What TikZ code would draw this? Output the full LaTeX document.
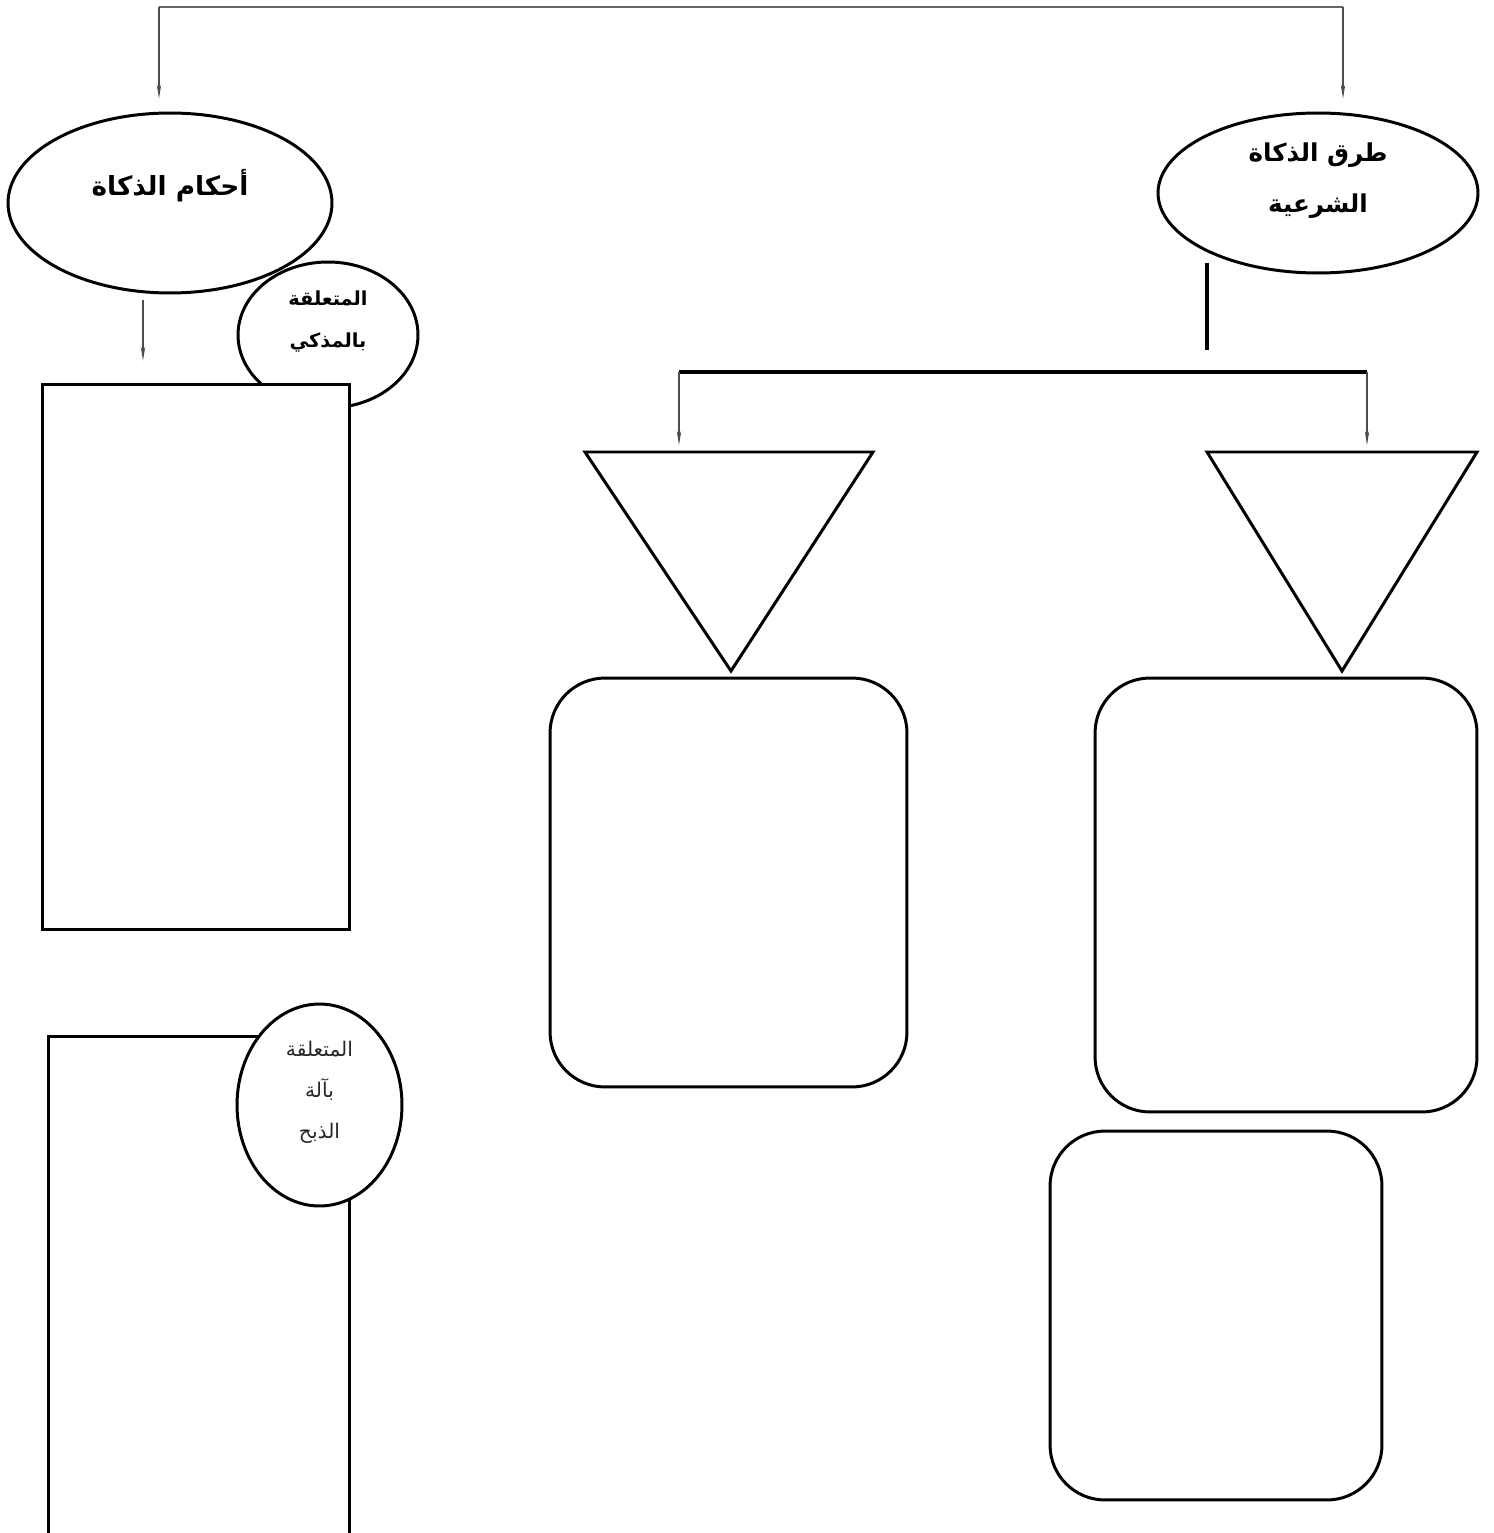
\documentclass[tikz,border=0pt]{standalone}
\usepackage{fontspec}
\usepackage{tikz}
\usetikzlibrary{shapes.geometric, arrows.meta, calc}
\TeXXeTstate=1
\newfontfamily\arabicfont[Script=Arabic]{DejaVu Sans}
\newcommand{\lAhkam}{أحكام الذكاة}
\newcommand{\lTuruqA}{طرق الذكاة}
\newcommand{\lTuruqB}{الشرعية}
\newcommand{\lMutaAlliqa}{المتعلقة}
\newcommand{\lBilMudhakka}{بالمذكي}
\newcommand{\lBiAla}{بآلة}
\newcommand{\lAdhDhabh}{الذبح}
\newcommand{\rtl}[1]{\beginR #1\endR}

\begin{document}
\begin{tikzpicture} [
        x=0.02cm, y=-0.02cm,
        line width=1.7pt,
        main topic/.style={draw, ellipse, inner sep=0pt, align=center, font=\arabicfont\bfseries\fontsize{15}{20}\selectfont},
        sub topic/.style={draw, ellipse, inner sep=0pt, align=center, font=\arabicfont\fontsize{11.5}{23.2}\selectfont},
        note box/.style={draw, fill=white, inner sep=0pt},
        round box/.style={draw, rounded corners=1.1cm, inner sep=0pt},
        thin link/.style={line width=0.6pt, draw=black!70},
        thick link/.style={line width=2.2pt},
        arr/.style={thin link, -{Stealth[length=0.28cm, width=0.09cm]}}
    ]

    \useasboundingbox (0,0) rectangle (1493,1533);

    % left branch
    \path (170,203) node[main topic, minimum width=6.48cm, minimum height=3.6cm] (ahkam) {\rtl{\lAhkam}\\[3pt]\mbox{}};
    \path (328,335) node[sub topic, font=\arabicfont\bfseries\fontsize{11}{23.8}\selectfont, minimum width=3.6cm, minimum height=2.92cm] (mudhakka) {\rtl{\lMutaAlliqa}\\\rtl{\lBilMudhakka}\\[-6pt]\mbox{}};
    \path (196,657) node[note box, minimum width=6.16cm, minimum height=10.92cm] (box mudhakka) {};
    \path (199,1290) node[note box, minimum width=6.04cm, minimum height=10.14cm] (box ala) {};
    \path (319.5,1105) node[sub topic, fill=white, text=black!85, minimum width=3.3cm, minimum height=4.04cm] (ala) {\rtl{\lMutaAlliqa}\\\rtl{\lBiAla}\\\rtl{\lAdhDhabh}\\[-6pt]\mbox{}};

    % right branch
    \path (1318,193) node[main topic, font=\arabicfont\bfseries\fontsize{14}{29}\selectfont, minimum width=6.4cm, minimum height=3.2cm] (turuq) {\rtl{\lTuruqA}\\\rtl{\lTuruqB}\\[-11.4pt]\mbox{}};
    \path (728.5,882.5) node[round box, minimum width=7.14cm, minimum height=8.18cm] (way A) {};
    \path (1286,895) node[round box, minimum width=7.64cm, minimum height=8.68cm] (way B) {};
    \path (1216,1315.5) node[round box, minimum width=6.64cm, minimum height=7.38cm] (way C) {};

    % triangles
    \coordinate (tri A) at (731,452);
    \coordinate (tri B) at (1342,452);
    \draw[line join=miter] (tri A) ++(-146,0) -- ++(288,0) -- (731,671) -- cycle;
    \draw[line join=miter] (tri B) ++(-135,0) -- ++(270,0) -- (1342,671) -- cycle;

    % top bracket
    \coordinate (bar L) at (159,7);
    \coordinate (bar R) at (1343,7);
    \draw[thin link, line width=1.2pt, draw=black!60] (bar L) -- (bar R);
    \draw[arr, shorten >=0.26cm] (bar L) -- (bar L |- ahkam.north);
    \draw[arr, shorten >=0.26cm] (bar R) -- (bar R |- turuq.north);

    % left arrow
    \coordinate (ahkam out) at (143,293);
    \draw[arr, shorten <=0.14cm, shorten >=0.44cm] (ahkam out) -- (ahkam out |- box mudhakka.north);

    % right split
    \coordinate (turuq out) at (1207,263);
    \coordinate (split L) at (679,372);
    \coordinate (split R) at (1367,372);
    \draw[thick link] (turuq out) -- ($ (turuq out |- split L) + (0,-22) $);
    \draw[thick link] (split L) -- (split R);
    \draw[arr, shorten >=0.14cm] (split L) -- (split L |- tri A);
    \draw[arr, shorten >=0.14cm] (split R) -- (split R |- tri B);

\end{tikzpicture}
\end{document}
